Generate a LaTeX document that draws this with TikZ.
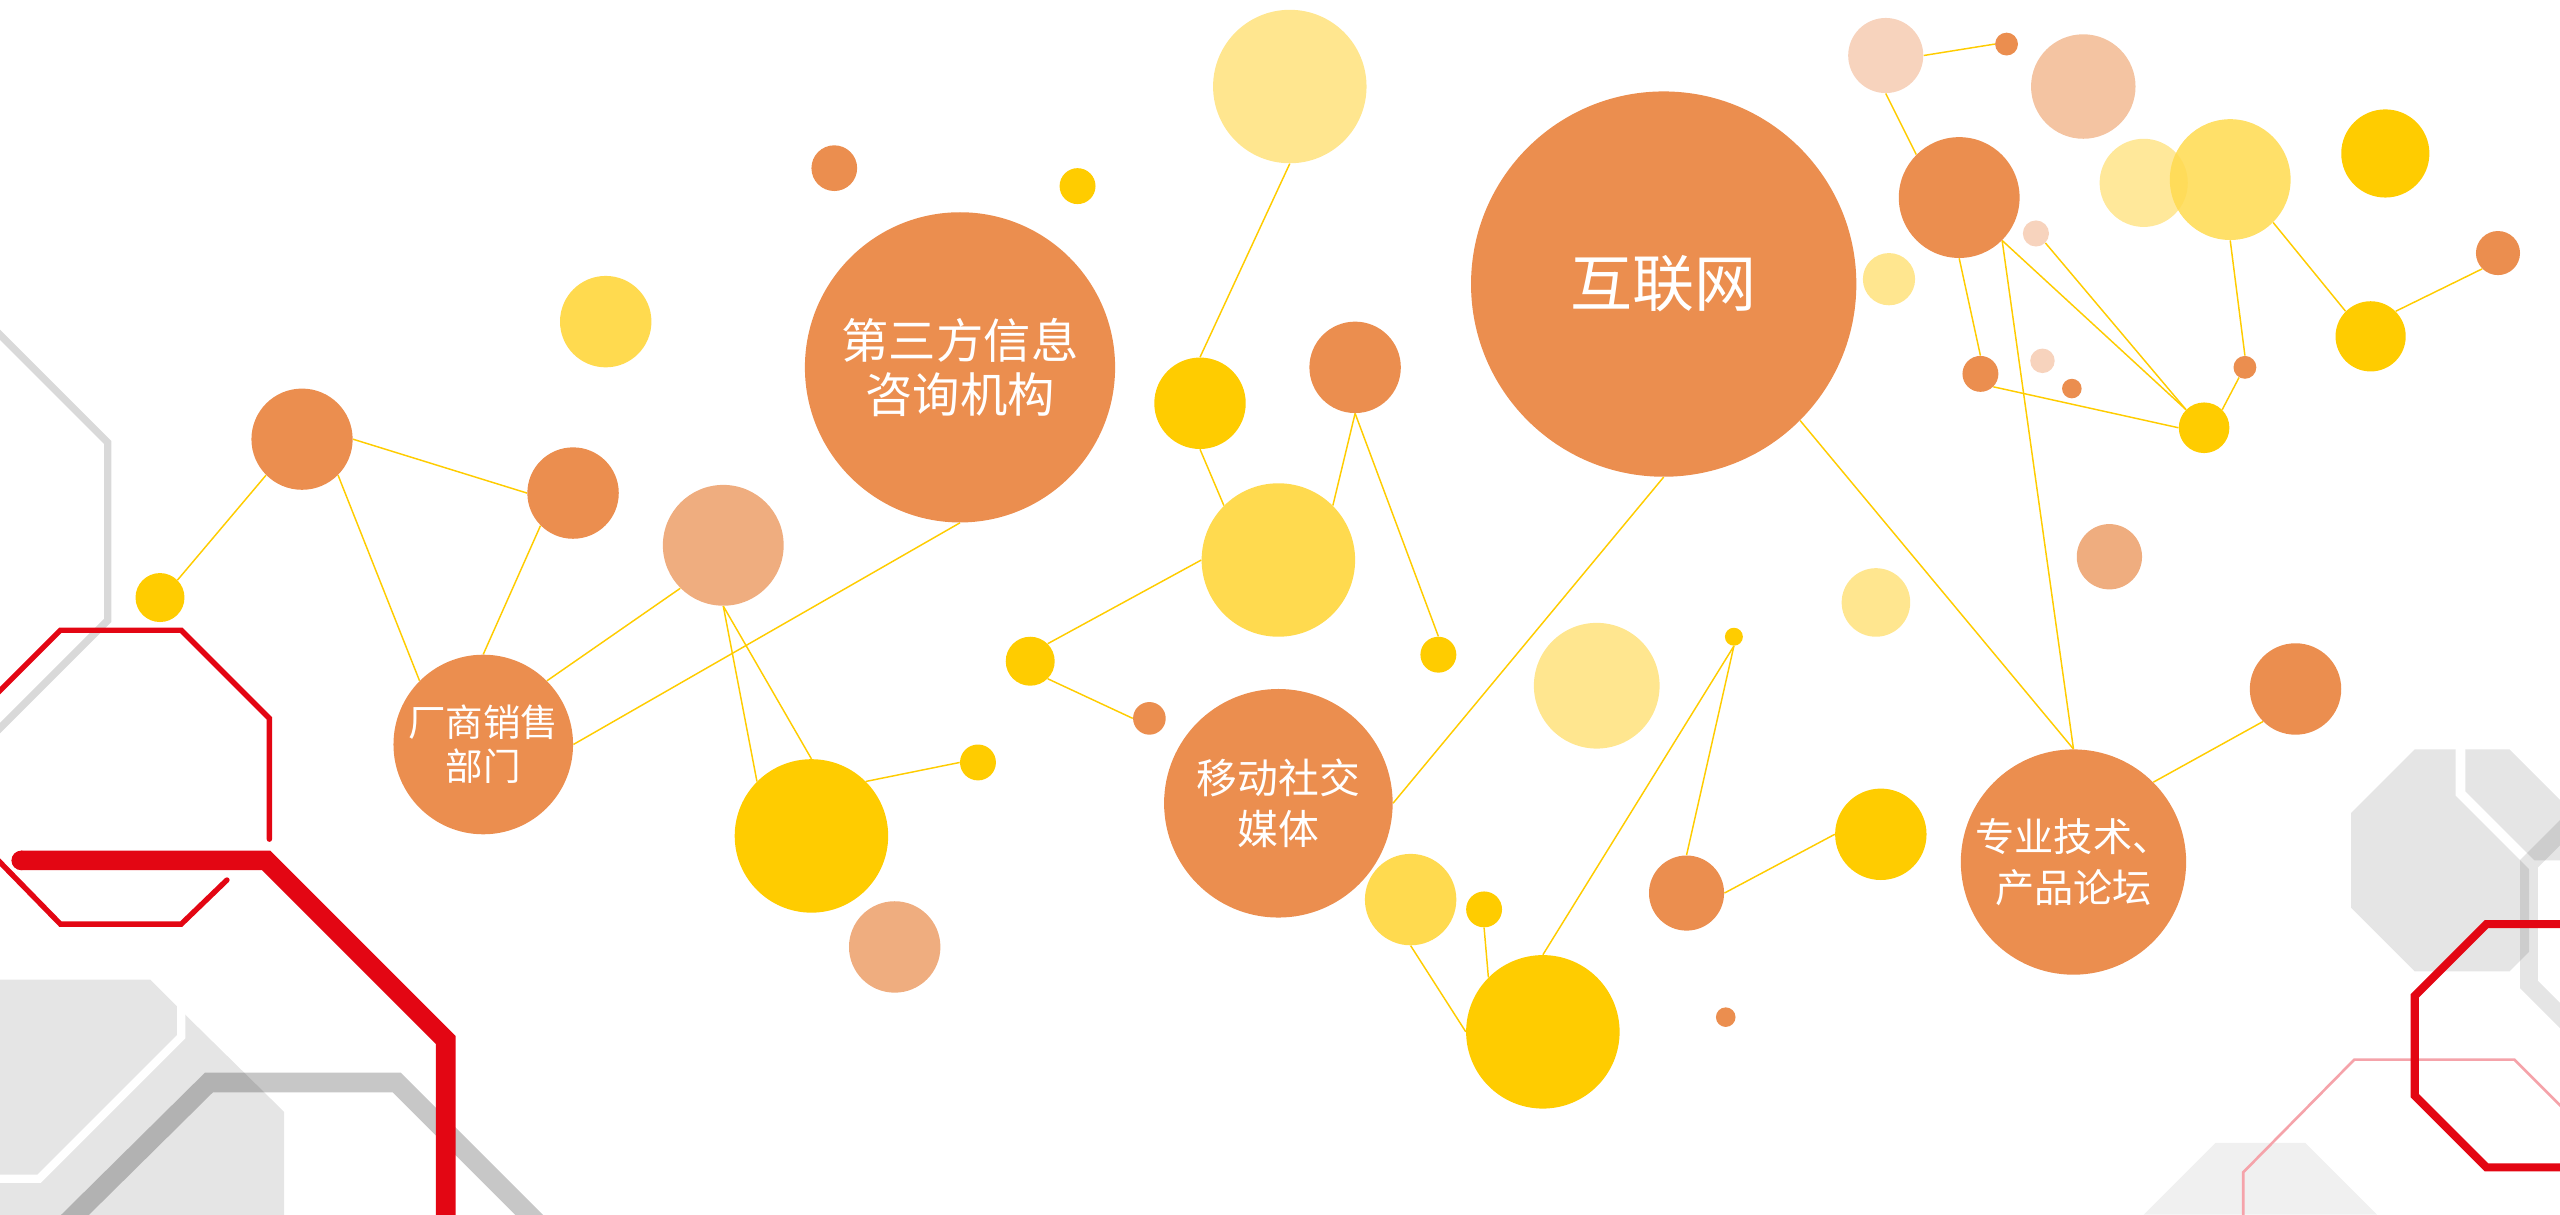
\documentclass[tikz,border=0pt]{standalone}
\usepackage{fontspec}
\newfontfamily\cjk{Noto Sans CJK SC}
\definecolor{org}{HTML}{EB8E4F}
\definecolor{yel}{HTML}{FFCC00}
\definecolor{ly}{HTML}{FFDA4F}
\definecolor{py}{HTML}{FFE68F}
\definecolor{lo}{HTML}{EFAD7F}
\definecolor{peach}{HTML}{F4C4A2}
\definecolor{pp}{HTML}{F7D3BD}
\definecolor{redd}{HTML}{E30613}
\definecolor{lgray}{HTML}{E5E5E5}
\definecolor{pinkl}{HTML}{F5A3AA}
\pgfdeclarelayer{deco}
\pgfdeclarelayer{links}
\pgfsetlayers{deco,links,main}
\tikzset{
  dot/.style={circle, inner sep=0pt, draw=none},
  link/.style={draw=yel, line width=0.9pt},
  ctext/.style={text=white, align=center},
  redline/.style={draw=redd, line join=miter},
}
\begin{document}
\begin{tikzpicture}[x=1pt,y=-1pt]
\useasboundingbox (0,0) rectangle (1568,744);

% ---------- nodes ----------
\node[dot, fill=yel,  minimum size=30]  (a1) at (98,366) {};
\node[dot, fill=org,  minimum size=62]  (a2) at (185,269) {};
\node[dot, fill=org,  minimum size=56]  (a3) at (351,302) {};
\node[dot, fill=org,  minimum size=110, ctext, font=\cjk\fontsize{23}{27}\selectfont] (vendor) at (296,456) {厂商销售\\部门};
\node[dot, fill=lo,   minimum size=74]  (a5) at (443,334) {};
\node[dot, fill=yel,  minimum size=94]  (a6) at (497,512) {};
\node[dot, fill=yel,  minimum size=22]  (a7) at (599,467) {};
\node[dot, fill=lo,   minimum size=56]  (a8) at (548,580) {};
\node[dot, fill=ly,   minimum size=56]  (a9) at (371,197) {};
\node[dot, fill=org,  minimum size=28]  (a10) at (511,103) {};
\node[dot, fill=org,  minimum size=190, ctext, font=\cjk\fontsize{29}{33}\selectfont] (third) at (588,225) {第三方信息\\咨询机构};
\node[dot, fill=yel,  minimum size=22]  (a12) at (660,114) {};
\node[dot, fill=py,   minimum size=94]  (a13) at (790,53) {};
\node[dot, fill=yel,  minimum size=56]  (a14) at (735,247) {};
\node[dot, fill=ly,   minimum size=94]  (a15) at (783,343) {};
\node[dot, fill=org,  minimum size=56]  (a16) at (830,225) {};
\node[dot, fill=yel,  minimum size=22]  (a17) at (881,401) {};
\node[dot, fill=yel,  minimum size=30]  (a18) at (631,405) {};
\node[dot, fill=org,  minimum size=20]  (a19) at (704,440) {};
\node[dot, fill=org,  minimum size=140, ctext, font=\cjk\fontsize{25}{31}\selectfont] (mobile) at (783,492) {移动社交\\媒体};
\node[dot, fill=ly,   minimum size=56]  (a21) at (864,551) {};
\node[dot, fill=yel,  minimum size=22]  (a22) at (909,557) {};
\node[dot, fill=yel,  minimum size=94]  (a23) at (945,632) {};
\node[dot, fill=py,   minimum size=77]  (a24) at (978,420) {};
\node[dot, fill=yel,  minimum size=11]  (a25) at (1062,390) {};
\node[dot, fill=org,  minimum size=46]  (a26) at (1033,547) {};
\node[dot, fill=yel,  minimum size=56]  (a27) at (1152,511) {};
\node[dot, fill=org,  minimum size=12]  (a28) at (1057,623) {};
\node[dot, fill=org,  minimum size=236, ctext, font=\cjk\fontsize{38}{44}\selectfont] (internet) at (1019,174) {互联网};
\node[dot, fill=py,   minimum size=32]  (a30) at (1157,171) {};
\node[dot, fill=py,   minimum size=42]  (a31) at (1149,369) {};
\node[dot, fill=lo,   minimum size=40]  (a32) at (1292,341) {};
\node[dot, fill=org,  minimum size=56]  (a33) at (1406,422) {};
\node[dot, fill=org,  minimum size=138, ctext, font=\cjk\fontsize{24}{31}\selectfont] (forum) at (1270,528) {专业技术、\\产品论坛};
\node[dot, fill=pp,   minimum size=46]  (b35) at (1155,34) {};
\node[dot, fill=org,  minimum size=14]  (b36) at (1229,27) {};
\node[dot, fill=peach,minimum size=64]  (b37) at (1276,53) {};
\node[dot, fill=org,  minimum size=74]  (b38) at (1200,121) {};
\node[dot, fill=py,   minimum size=54, fill opacity=0.9]  (b39) at (1313,112) {};
\node[dot, fill=ly,   minimum size=74, fill opacity=0.85] (b40) at (1366,110) {};
\node[dot, fill=yel,  minimum size=54]  (b41) at (1461,94) {};
\node[dot, fill=pp,   minimum size=16]  (b43) at (1247,143) {};
\node[dot, fill=org,  minimum size=22]  (b44) at (1213,229) {};
\node[dot, fill=pp,   minimum size=15]  (b45) at (1251,221) {};
\node[dot, fill=org,  minimum size=12]  (b46) at (1269,238) {};
\node[dot, fill=yel,  minimum size=31]  (b47) at (1350,262) {};
\node[dot, fill=org,  minimum size=14]  (b48) at (1375,225) {};
\node[dot, fill=yel,  minimum size=43]  (b49) at (1452,206) {};
\node[dot, fill=org,  minimum size=27]  (b50) at (1530,155) {};

% ---------- connectors ----------
\begin{pgfonlayer}{links}
\draw[link] (a1.45) -- (a2.225);
\draw[link] (a2.east) -- (a3.west);
\draw[link] (a2.-45) -- (vendor.135);
\draw[link] (a3.225) -- (vendor.north);
\draw[link] (vendor.45) -- (a5.225);
\draw[link] (vendor.east) -- (third.south);
\draw[link] (a5.south) -- (a6.north);
\draw[link] (a5.south) -- (a6.135);
\draw[link] (a6.45) -- (a7.west);
\draw[link] (a13.south) -- (a14.north);
\draw[link] (a14.south) -- (a15.135);
\draw[link] (a15.45) -- (a16.south);
\draw[link] (a16.south) -- (a17.north);
\draw[link] (a15.west) -- (a18.45);
\draw[link] (a18.-45) -- (a19.west);
\draw[link] (mobile.east) -- (internet.south);
\draw[link] (a21.south) -- (a23.west);
\draw[link] (a22.south) -- (a23.135);
\draw[link] (a23.north) -- (a25.south);
\draw[link] (a25.south) -- (a26.north);
\draw[link] (a26.east) -- (a27.west);
\draw[link] (internet.-45) -- (forum.north);
\draw[link] (forum.45) -- (a33.225);
\draw[link] (b35.east) -- (b36.west);
\draw[link] (b35.south) -- (b38.135);
\draw[link] (b38.south) -- (b44.north);
\draw[link] (b38.-45) -- (forum.north);
\draw[link] (b38.-45) -- (b47.135);
\draw[link] (b43.-45) -- (b47.135);
\draw[link] (b44.-45) -- (b47.west);
\draw[link] (b48.240) -- (b47.45);
\draw[link] (b40.south) -- (b48.north);
\draw[link] (b40.-45) -- (b49.135);
\draw[link] (b49.45) -- (b50.225);
\end{pgfonlayer}

% ---------- background decoration ----------
\begin{pgfonlayer}{deco}
% left: gray light outline
\draw[draw=black, draw opacity=0.15, line width=4.5] (-5,200) -- (66,271) -- (66,380) -- (-5,451);
% bottom-left gray fill
\fill[lgray] (-2,600) -- (92,600) -- (116,624) -- (174,681) -- (174,750) -- (-2,750) -- cycle;
\draw[white, line width=5] (-2,722) -- (24,722) -- (111,635) -- (111,605);
% dark gray thick line
\draw[draw=black, draw opacity=0.22, line width=12] (40,750) -- (128,663) -- (243,663) -- (330,750);
% red thin octagon
\draw[redline, line width=3.3, line cap=round] (-5,428) -- (37,386) -- (111,386) -- (165,440) -- (165,514);
\draw[redline, line width=3.3, line cap=round] (-5,523) -- (37,566) -- (111,566) -- (139,539);
% thick red
\draw[redline, line width=12] (13,527) -- (163,527) -- (273,637) -- (273,750);
\fill[redd] (13,527) circle (6);
% right gray octagon
\fill[lgray] (1440,498) -- (1479,459) -- (1537,459) -- (1570,492) -- (1570,530) -- (1549,530) -- (1549,583) -- (1537,595) -- (1479,595) -- (1440,556) -- cycle;
\draw[white, line width=6] (1507,455) -- (1507,486) -- (1551,530) -- (1572,530);
\draw[draw=black, draw opacity=0.1, line width=11] (1575,503) -- (1549,529) -- (1549,603) -- (1575,629);
% bottom-right light fill
\fill[black!6] (1313,744) -- (1357,700) -- (1412,700) -- (1456,744) -- cycle;
% pink line
\draw[pinkl, line width=1.6] (1374,750) -- (1374,718) -- (1442,649) -- (1540,649) -- (1575,684);
% red octagon right
\draw[redline, line width=5] (1575,566) -- (1523,566) -- (1479,610) -- (1479,671) -- (1523,715) -- (1575,715);
\end{pgfonlayer}
\end{tikzpicture}
\end{document}
